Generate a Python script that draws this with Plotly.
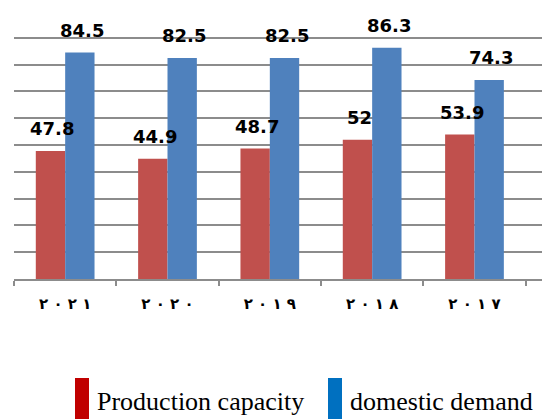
import plotly.graph_objects as go

# ---- data ----
categories = ["٢\u00a0٠\u00a0٢\u00a0١", "٢\u00a0٠\u00a0٢\u00a0٠",
              "٢\u00a0٠\u00a0١\u00a0٩", "٢\u00a0٠\u00a0١\u00a0٨",
              "٢\u00a0٠\u00a0١\u00a0٧"]
production_capacity = [47.8, 44.9, 48.7, 52, 53.9]
domestic_demand = [84.5, 82.5, 82.5, 86.3, 74.3]
series_names = ["Production capacity", "domestic demand"]

bar_colors = ["#C0504D", "#4F81BD"]
legend_colors = ["#C00000", "#0070C0"]

W, H = 542, 419
ML, MR, MT, MB = 14, 0, 11, 140
plot_w = W - ML - MR
plot_h = H - MT - MB
cat_px = 102.33

fig = go.Figure()
for name, vals, col in zip(series_names, [production_capacity, domestic_demand], bar_colors):
    fig.add_trace(go.Bar(x=categories, y=vals, name=name, marker_color=col,
                         marker_line_width=0, showlegend=False))

bar_w = cat_px * (1 - 0.426) / 2
for i, vals in enumerate([production_capacity, domestic_demand]):
    shift = (-0.5 if i == 0 else 0.5) * bar_w
    for c, v in zip(categories, vals):
        fig.add_annotation(x=c, y=v, text=f"{v:g}", showarrow=False,
                           xshift=shift + 2, yshift=22, yanchor="middle",
                           font=dict(family="DejaVu Sans", size=18, color="black", weight="bold"))

def px2x(px):
    return (px - ML) / plot_w

def py2y(py):
    return (H - MB - py) / plot_h

legend_pos = [(75, 95), (328, 348)]
for (mx, tx), name, col in zip(legend_pos, series_names, legend_colors):
    fig.add_shape(type="rect", xref="paper", yref="paper",
                  x0=px2x(mx), x1=px2x(mx + 14), y0=py2y(419), y1=py2y(378),
                  fillcolor=col, line_width=0)
    fig.add_annotation(xref="paper", yref="paper", x=px2x(tx), y=py2y(401),
                       xanchor="left", yanchor="middle", text=name, showarrow=False,
                       font=dict(family="Liberation Serif", size=26, color="black"))

fig.update_layout(
    width=W, height=H,
    margin=dict(l=ML, r=MR, t=MT, b=MB),
    plot_bgcolor="white", paper_bgcolor="white",
    barmode="group", bargap=0.426, bargroupgap=0,
    xaxis=dict(range=[-0.5, -0.5 + plot_w / cat_px], tickson="boundaries",
               ticks="outside", ticklen=5, tickwidth=2, tickcolor="#8C8C8C",
               showline=True, linecolor="#8C8C8C", linewidth=2,
               tickfont=dict(family="DejaVu Sans", size=15, color="black", weight="bold"),
               ticklabelstandoff=10, showgrid=False),
    yaxis=dict(range=[0, 100], dtick=10, showgrid=True, gridcolor="#8C8C8C", gridwidth=1.5,
               showticklabels=False, zeroline=False, fixedrange=True),
)

fig.write_html("out.html")
